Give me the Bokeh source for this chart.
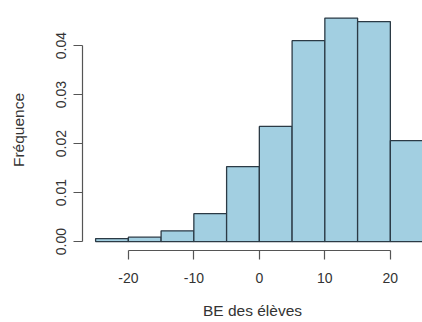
from bokeh.plotting import figure
from bokeh.models import Range1d, FixedTicker, NumeralTickFormatter, ColumnDataSource
from bokeh.embed import file_html
from bokeh.resources import INLINE

# Histogram data (density), bins of width 5
bin_left = [-25, -20, -15, -10, -5, 0, 5, 10, 15, 20]
bin_right = [-20, -15, -10, -5, 0, 5, 10, 15, 20, 25]
density = [0.0006, 0.0009, 0.0022, 0.0057, 0.0153, 0.0235, 0.0410, 0.0456, 0.0449, 0.0206]

x_ticks = [-20, -10, 0, 10, 20]
x_tick_labels = ["-20", "-10", "0", "10", "20"]
y_ticks = [0.0, 0.01, 0.02, 0.03, 0.04]

x_label = "BE des élèves"
y_label = "Fréquence"

src = ColumnDataSource(dict(left=bin_left, right=bin_right, top=density,
                            bottom=[0] * len(density)))

W, H = 422, 322
left_border, bottom_border, top_border = 82, 72, 9
frame_w = W - left_border
frame_h = H - bottom_border - top_border

px_per_x = 6.55
x_start = -27.0
x_end = x_start + frame_w / px_per_x
px_per_y = 4900.0
y_start = -0.04 * max(density)
y_end = y_start + frame_h / px_per_y

p = figure(width=W, height=H, output_backend="svg", toolbar_location=None,
           x_range=Range1d(x_start, x_end), y_range=Range1d(y_start, y_end),
           min_border_left=left_border, min_border_right=0,
           min_border_top=top_border, min_border_bottom=bottom_border)
p.outline_line_color = None
p.grid.visible = False
p.background_fill_color = "white"
p.border_fill_color = "white"

p.quad(left="left", right="right", top="top", bottom="bottom", source=src,
       fill_color="#a2cfe1", line_color="#2b3a45", line_width=1.3)

font = "Liberation Sans"
txt = "#333333"
axc = "#555555"

xa = p.xaxis[0]
xa.ticker = FixedTicker(ticks=x_ticks)
xa.major_label_overrides = {t: l for t, l in zip(x_ticks, x_tick_labels)}
xa.bounds = (x_ticks[0], x_ticks[-1])
xa.axis_label = x_label

ya = p.yaxis[0]
ya.ticker = FixedTicker(ticks=y_ticks)
ya.formatter = NumeralTickFormatter(format="0.00")
ya.bounds = (y_ticks[0], y_ticks[-1])
ya.axis_label = y_label
ya.major_label_orientation = "vertical"

for ax in (xa, ya):
    ax.minor_tick_line_color = None
    ax.major_tick_in = 0
    ax.major_tick_out = 9
    ax.axis_line_color = axc
    ax.major_tick_line_color = axc
    ax.axis_line_width = 1.2
    ax.major_tick_line_width = 1.2
    ax.major_label_text_font = font
    ax.major_label_text_font_size = "14px"
    ax.major_label_text_color = txt
    ax.axis_label_text_font = font
    ax.axis_label_text_font_size = "15.5px"
    ax.axis_label_text_font_style = "normal"
    ax.axis_label_text_color = txt

xa.major_label_standoff = 13
xa.axis_label_standoff = 16
ya.major_label_standoff = 7
ya.axis_label_standoff = 27

open("out.html", "w").write(file_html(p, INLINE))
